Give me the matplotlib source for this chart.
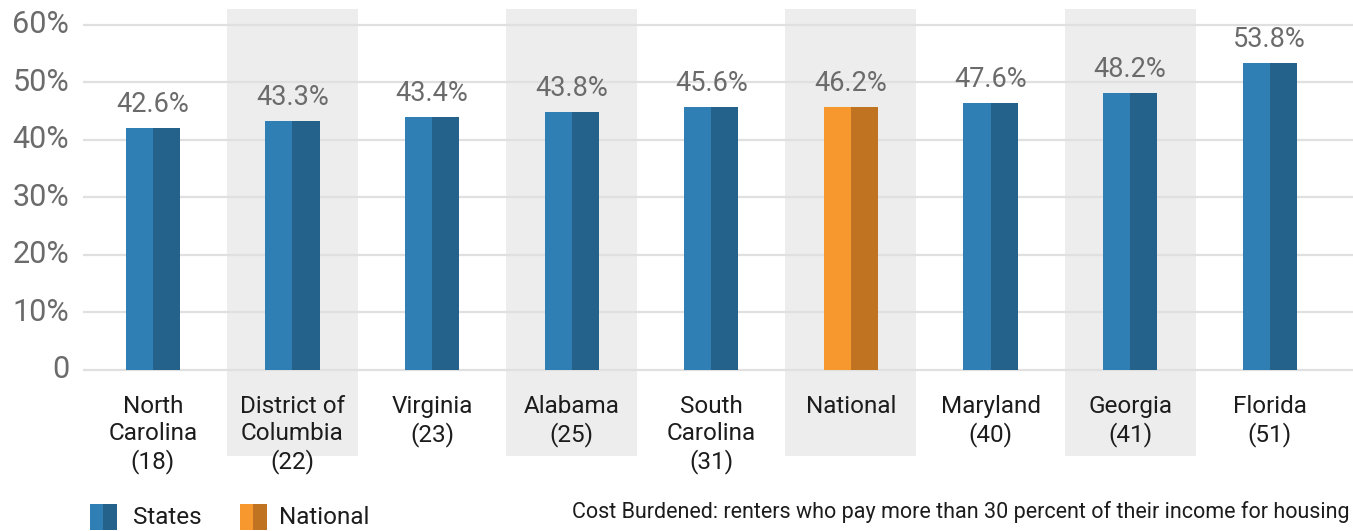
import matplotlib
matplotlib.use("Agg")
import matplotlib.pyplot as plt
from matplotlib.patches import Rectangle

# data
categories = ["North\nCarolina\n(18)", "District of\nColumbia\n(22)", "Virginia\n(23)",
              "Alabama\n(25)", "South\nCarolina\n(31)", "National", "Maryland\n(40)",
              "Georgia\n(41)", "Florida\n(51)"]
bar_values = [42.1, 43.3, 44.0, 44.9, 45.7, 45.7, 46.4, 48.2, 53.4]
value_labels = ["42.6%", "43.3%", "43.4%", "43.8%", "45.6%", "46.2%", "47.6%", "48.2%", "53.8%"]
is_national = [False, False, False, False, False, True, False, False, False]
y_ticks = [0, 10, 20, 30, 40, 50, 60]
y_tick_labels = ["0", "10%", "20%", "30%", "40%", "50%", "60%"]

blue_l, blue_d = "#2f7fb4", "#24628c"
orange_l, orange_d = "#f7982f", "#c07422"
band_col = "#ededed"
grid_col = "#e0e0e0"
num_col = "#6b6b6b"
txt_col = "#1c1c1c"

plt.rcParams['font.family'] = ['Roboto', 'DejaVu Sans']

W, H = 1353, 531
fig = plt.figure(figsize=(W / 100, H / 100), dpi=100)
ax = fig.add_axes([83 / W, 1 - 456 / H, 1 - 83 / W, (456 - 9) / H])

ax.set_xlim(-0.5, 8.596)
ax.set_ylim(-14.96, 62.78)
ax.axis("off")

# alternating background bands
for i in range(len(categories)):
    if i % 2 == 1:
        ax.axvspan(i - 0.469, i + 0.469, color=band_col, lw=0, zorder=0)

# gridlines
for t in y_ticks:
    ax.axhline(t, color=grid_col, lw=1.6, zorder=1)

bw = 0.194
for i, v in enumerate(bar_values):
    cl, cd = (orange_l, orange_d) if is_national[i] else (blue_l, blue_d)
    ax.bar(i - bw / 2, v, width=bw, color=cl, lw=0, zorder=2)
    ax.bar(i + bw / 2, v, width=bw, color=cd, lw=0, zorder=2)
    ax.text(i, v + 1.7, value_labels[i], ha="center", va="bottom", fontsize=19.5,
            color=num_col, zorder=3)
    ax.text(i, -4.4, categories[i], ha="center", va="top", fontsize=17.5,
            color=txt_col, linespacing=1.22, zorder=3)

# y tick labels
for t, lab in zip(y_ticks, y_tick_labels):
    ax.text(-0.6, t, lab, ha="right", va="center", fontsize=22, color=num_col,
            transform=ax.transData, clip_on=False)

# legend
def legend_patch(x, cl, cd):
    fig.add_artist(Rectangle((x / W, 1 - 530 / H), 14 / W, 26 / H, color=cl,
                             transform=fig.transFigure, lw=0))
    fig.add_artist(Rectangle(((x + 13) / W, 1 - 530 / H), 14 / W, 26 / H, color=cd,
                             transform=fig.transFigure, lw=0))

legend_patch(90, blue_l, blue_d)
fig.text(133 / W, 1 - 517 / H, "States", ha="left", va="center", fontsize=17.5, color=txt_col)
legend_patch(240, orange_l, orange_d)
fig.text(279 / W, 1 - 517 / H, "National", ha="left", va="center", fontsize=17.5, color=txt_col)

fig.text(1350 / W, 1 - 512 / H,
         "Cost Burdened: renters who pay more than 30 percent of their income for housing",
         ha="right", va="center", fontsize=15.5, color=txt_col)

fig.savefig("out.png", dpi=100)
